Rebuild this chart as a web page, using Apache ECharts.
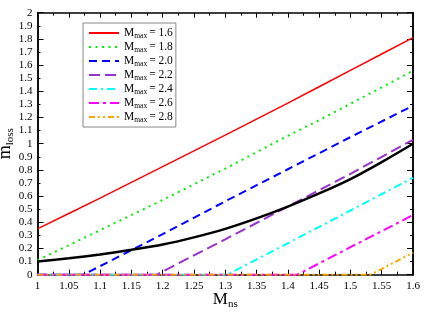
<!DOCTYPE html>
<html>
<head>
<meta charset="utf-8">
<script src="https://cdn.jsdelivr.net/npm/echarts@6/dist/echarts.min.js"></script>
<style>html,body{margin:0;padding:0;background:#fff;}#c{width:425px;height:312px;}</style>
</head>
<body>
<div id="c"></div>
<script>
// Shared x grid (M_ns)
var xs = [1.0, 1.05, 1.1, 1.15, 1.2, 1.25, 1.3, 1.35, 1.4, 1.45, 1.5, 1.55, 1.6];
var red16 = [0.35, 0.467, 0.585, 0.705, 0.825, 0.945, 1.065, 1.188, 1.31, 1.435, 1.56, 1.685, 1.81];
var green18 = [0.11, 0.225, 0.34, 0.455, 0.57, 0.69, 0.81, 0.935, 1.06, 1.18, 1.305, 1.43, 1.557];
var black = [0.1, 0.125, 0.155, 0.19, 0.23, 0.285, 0.35, 0.43, 0.52, 0.62, 0.73, 0.86, 1.0];
var blueX = [1.0, 1.073, 1.1, 1.2, 1.3, 1.4, 1.5, 1.6];
var blue20 = [0, 0, 0.065, 0.31, 0.56, 0.805, 1.05, 1.29];
var purpleX = [1.0, 1.19, 1.3, 1.4, 1.5, 1.6];
var purple22 = [0, 0, 0.27, 0.52, 0.77, 1.03];
var cyanX = [1.0, 1.303, 1.4, 1.5, 1.6];
var cyan24 = [0, 0, 0.24, 0.49, 0.74];
var magentaX = [1.0, 1.415, 1.5, 1.6];
var magenta26 = [0, 0, 0.21, 0.455];
var orangeX = [1.0, 1.532, 1.6];
var orange28 = [0, 0, 0.168];
var legendNames = ['1.6', '1.8', '2.0', '2.2', '2.4', '2.6', '2.8'];

function pairs(x, y) { return x.map(function (v, i) { return [v, y[i]]; }); }

var FONT = 'Liberation Serif';
var chart = echarts.init(document.getElementById('c'));

function mkSeries(name, x, y, color, type, width, smooth) {
  return {
    type: 'line', name: name, data: pairs(x, y), symbol: 'none', showSymbol: false, animation: false,
    xAxisIndex: 0, yAxisIndex: 0, clip: true, smooth: smooth || false,
    lineStyle: { color: color, width: width, type: type },
    itemStyle: { color: color }
  };
}

var series = [
  mkSeries('M = ' + legendNames[0], xs, red16, '#ff0000', 'solid', 1.5),
  mkSeries('M = ' + legendNames[1], xs, green18, '#00ee00', [2, 4.5], 2),
  mkSeries('M = ' + legendNames[2], blueX, blue20, '#0000ff', [8, 5], 2),
  mkSeries('M = ' + legendNames[3], purpleX, purple22, '#9932cc', [11, 5], 2),
  mkSeries('M = ' + legendNames[4], cyanX, cyan24, '#00ffff', [8, 4, 2, 4], 2),
  mkSeries('M = ' + legendNames[5], magentaX, magenta26, '#ff00ff', [10, 4, 3, 4], 2),
  mkSeries('M = ' + legendNames[6], orangeX, orange28, '#ffa500', [6, 3, 2, 3, 2, 3], 2),
  mkSeries('black', xs, black, '#000000', 'solid', 2.5, 0.3)
];

var axLine = { show: true, onZero: false, lineStyle: { color: '#000', width: 1.5 } };
var lab = { color: '#000', fontFamily: FONT, fontSize: 11 };

var option = {
  backgroundColor: '#fff',
  animation: false,
  grid: { left: 37.5, right: 12, top: 12.7, bottom: 37.3, containLabel: false, outerBoundsMode: 'none' },
  legend: {
    data: legendNames.map(function (n) { return 'M = ' + n; }),
    orient: 'vertical',
    left: 83, top: 23,
    padding: [3, 3, 3, 5],
    itemWidth: 30, itemHeight: 15, itemGap: 0, itemTextGap: 8,
    borderColor: '#888', borderWidth: 1, backgroundColor: '#fff',
    itemStyle: { color: 'transparent', borderWidth: 0, opacity: 0 },
    formatter: function (n) { return '{m|M}{s|max}{m|= ' + n.slice(4) + '}'; },
    textStyle: {
      color: '#000', fontFamily: FONT,
      rich: {
        m: { fontSize: 11.5, fontFamily: FONT, color: '#000', lineHeight: 14 },
        s: { fontSize: 7.5, fontFamily: FONT, color: '#000', padding: [6, 2, 0, 0], lineHeight: 14 }
      }
    }
  },
  xAxis: [
    {
      type: 'value', min: 1, max: 1.6, interval: 0.05, position: 'bottom',
      axisLine: axLine,
      axisTick: { show: true, inside: true, length: 5, lineStyle: { color: '#000' } },
      minorTick: { show: true, splitNumber: 2, length: 3, lineStyle: { color: '#000' } },
      splitLine: { show: false },
      axisLabel: Object.assign({ margin: 6, formatter: function (v) { return +v.toFixed(2) + ''; } }, lab),
      name: '{m|M}{s|ns}', nameLocation: 'middle', nameGap: 14, nameMoveOverlap: false,
      nameTextStyle: { rich: {
        m: { fontSize: 17, fontFamily: FONT, color: '#000' },
        s: { fontSize: 11, fontFamily: FONT, color: '#000', padding: [10, 0, 0, 0] }
      } }
    },
    {
      type: 'value', min: 1, max: 1.6, interval: 0.05, position: 'top',
      axisLine: axLine,
      axisTick: { show: true, inside: true, length: 5, lineStyle: { color: '#000' } },
      minorTick: { show: true, splitNumber: 2, length: 3, lineStyle: { color: '#000' } },
      splitLine: { show: false }, axisLabel: { show: false }
    }
  ],
  yAxis: [
    {
      type: 'value', min: 0, max: 2, interval: 0.1, position: 'left',
      axisLine: axLine,
      axisTick: { show: true, inside: true, length: 3, lineStyle: { color: '#000' } },
      splitLine: { show: false },
      axisLabel: Object.assign({ margin: 5, formatter: function (v) { return +v.toFixed(1) + ''; } }, lab),
      name: '{m|m}{s|loss}', nameLocation: 'middle', nameGap: 22, nameRotate: 90, nameMoveOverlap: false,
      nameTextStyle: { rich: {
        m: { fontSize: 18, fontFamily: FONT, color: '#000' },
        s: { fontSize: 11, fontFamily: FONT, color: '#000', padding: [10, 0, 0, 0] }
      } }
    },
    {
      type: 'value', min: 0, max: 2, interval: 0.2, position: 'left',
      axisLine: axLine,
      axisTick: { show: true, inside: true, length: 6, lineStyle: { color: '#000' } },
      splitLine: { show: false }, axisLabel: { show: false }
    },
    {
      type: 'value', min: 0, max: 2, interval: 0.1, position: 'right',
      axisLine: axLine,
      axisTick: { show: true, inside: true, length: 3, lineStyle: { color: '#000' } },
      splitLine: { show: false }, axisLabel: { show: false }
    },
    {
      type: 'value', min: 0, max: 2, interval: 0.2, position: 'right',
      axisLine: axLine,
      axisTick: { show: true, inside: true, length: 6, lineStyle: { color: '#000' } },
      splitLine: { show: false }, axisLabel: { show: false }
    }
  ],
  series: series
};
chart.setOption(option);
</script>
</body>
</html>
